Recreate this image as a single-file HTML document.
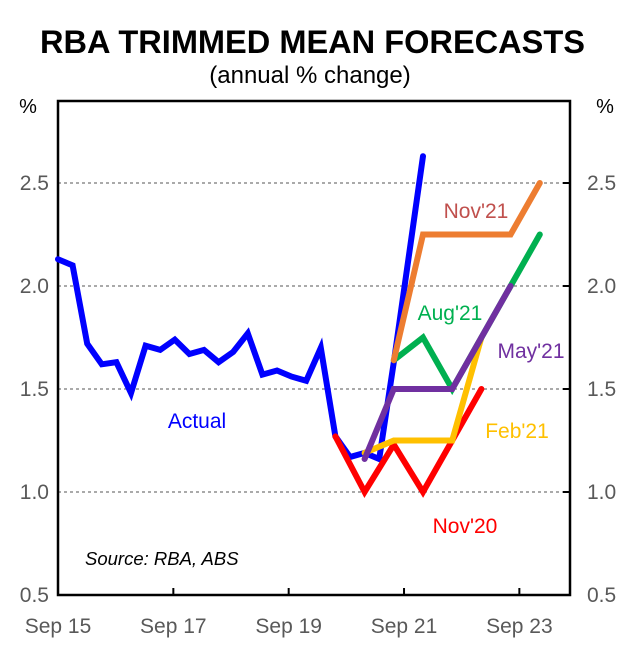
<!DOCTYPE html>
<html><head><meta charset="utf-8"><style>
html,body{margin:0;padding:0;background:#fff;}
svg{display:block;font-family:"Liberation Sans",sans-serif;}
</style></head><body>
<svg id="chart" width="638" height="653" viewBox="0 0 638 653">
<text x="40" y="53" textLength="545" lengthAdjust="spacingAndGlyphs" font-size="32" font-weight="bold" fill="#000">RBA TRIMMED MEAN FORECASTS</text>
<text x="310" y="83" text-anchor="middle" font-size="24" fill="#000">(annual % change)</text>
<text x="28" y="113" text-anchor="middle" font-size="20" fill="#000">%</text>
<text x="605" y="113" text-anchor="middle" font-size="20" fill="#000">%</text>
<g id="grid"></g>
<g id="axes"></g>
<g id="series"></g>
<text x="197" y="428" text-anchor="middle" font-size="21" fill="#0000ff">Actual</text>
<text x="476" y="218" text-anchor="middle" font-size="21" fill="#c0504d">Nov'21</text>
<text x="450" y="320" text-anchor="middle" font-size="21" fill="#00b050">Aug'21</text>
<text x="531" y="358" text-anchor="middle" font-size="21" fill="#7030a0">May'21</text>
<text x="517" y="438" text-anchor="middle" font-size="21" fill="#ffc000">Feb'21</text>
<text x="465" y="533" text-anchor="middle" font-size="21" fill="#ff0000">Nov'20</text>
<text x="85" y="565" font-size="18.5" font-style="italic" fill="#000">Source: RBA, ABS</text>
</svg>
<script>
const yTicks = [0.5, 1.0, 1.5, 2.0, 2.5];
const xTickLabels = ["Sep 15", "Sep 17", "Sep 19", "Sep 21", "Sep 23"];
const xTickIndex = [0, 7.9, 15.8, 23.7, 31.6];
const actualValues = [2.13,2.10,1.72,1.62,1.63,1.48,1.71,1.69,1.74,1.67,1.69,1.63,1.68,1.77,1.57,1.59,1.56,1.54,1.70,1.27,1.17,1.19,1.16,1.63,2.13,2.63];
const nov20Index = [19,21,23,25,27,29];
const nov20Values = [1.27,1.0,1.23,1.0,1.25,1.5];
const feb21Index = [21,23,27,29];
const feb21Values = [1.19,1.25,1.25,1.75];
const aug21Index = [23,25,27,31,33];
const aug21Values = [1.64,1.75,1.5,2.0,2.25];
const may21Index = [21,23,27,31];
const may21Values = [1.16,1.5,1.5,2.0];
const nov21Index = [23,25,31,33];
const nov21Values = [1.64,2.25,2.25,2.5];

const L=58,R=570,T=101,B=595;
const xS=i=>L+i*14.6;
const yS=v=>B-(v-0.5)*206;
const NS="http://www.w3.org/2000/svg";
function mk(tag,attrs,parent){const e=document.createElementNS(NS,tag);for(const k in attrs)e.setAttribute(k,attrs[k]);parent.appendChild(e);return e;}
const grid=document.getElementById('grid'),axes=document.getElementById('axes'),ser=document.getElementById('series');

yTicks.forEach(v=>{
  if(v>0.5){
    const g=mk('line',{x1:L,x2:R,y1:yS(v),y2:yS(v),stroke:'#555','stroke-width':1,'stroke-dasharray':'3,3'},grid);
    
    
    const t=mk('line',{x1:R-7,x2:R,y1:yS(v),y2:yS(v),stroke:'#000','stroke-width':2},axes);
    
    
  }
  const lt=mk('text',{x:49,y:yS(v)+7,'text-anchor':'end','font-size':21,fill:'#595959'},axes);
  lt.textContent=v.toFixed(1);
  
  
  const rt=mk('text',{x:587,y:yS(v)+7,'font-size':21,fill:'#595959'},axes);
  rt.textContent=v.toFixed(1);
  
  
});
xTickLabels.forEach((lab,k)=>{
  const x=xS(xTickIndex[k]);
  if(k>0){const t=mk('line',{x1:x,x2:x,y1:B-7,y2:B,stroke:'#000','stroke-width':2},axes);
  
  }
  const tx=mk('text',{x:x,y:633,'text-anchor':'middle','font-size':21,fill:'#595959'},axes);
  tx.textContent=lab;
  
  
});
const box=mk('rect',{x:L,y:T,width:R-L,height:B-T,fill:'none',stroke:'#000','stroke-width':2.5},axes);



function line(idx,vals,color,name){
  const pts=vals.map((v,k)=>xS(idx[k]).toFixed(1)+','+yS(v).toFixed(1)).join(' ');
  const p=mk('polyline',{points:pts,fill:'none',stroke:color,'stroke-width':6,'stroke-linejoin':'miter','stroke-linecap':'round'},ser);
  
  
}
line(actualValues.map((v,i)=>i),actualValues,'#0000ff','actual-line');
line(nov20Index,nov20Values,'#ff0000','nov20-line');
line(feb21Index,feb21Values,'#ffc000','feb21-line');
line(aug21Index,aug21Values,'#00b050','aug21-line');
line(may21Index,may21Values,'#7030a0','may21-line');
line(nov21Index,nov21Values,'#ed7d31','nov21-line');
</script>
</body></html>
